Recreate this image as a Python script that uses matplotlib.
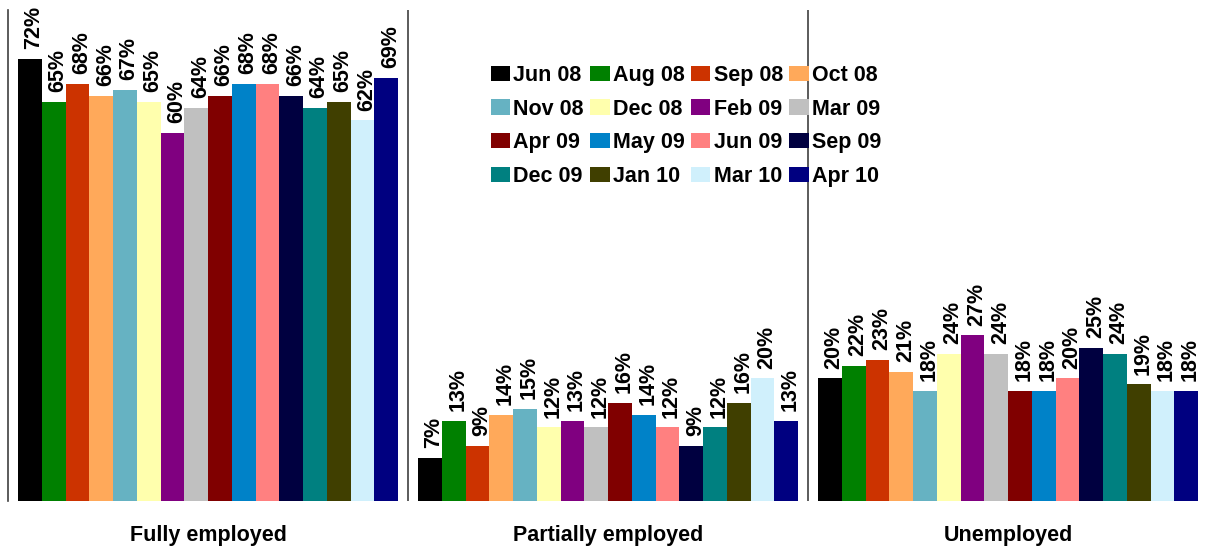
import numpy as np
import matplotlib
matplotlib.use("Agg")
import matplotlib.pyplot as plt
from matplotlib.patches import Patch

plt.rcParams["font.family"] = ["Liberation Sans", "DejaVu Sans"]

# ── Data ──────────────────────────────────────────────────────────────────────
categories = ["Fully employed", "Partially employed", "Unemployed"]
periods = ["Jun 08", "Aug 08", "Sep 08", "Oct 08", "Nov 08", "Dec 08", "Feb 09", "Mar 09",
           "Apr 09", "May 09", "Jun 09", "Sep 09", "Dec 09", "Jan 10", "Mar 10", "Apr 10"]
fully = [72, 65, 68, 66, 67, 65, 60, 64, 66, 68, 68, 66, 64, 65, 62, 69]
partially = [7, 13, 9, 14, 15, 12, 13, 12, 16, 14, 12, 9, 12, 16, 20, 13]
unemployed = [20, 22, 23, 21, 18, 24, 27, 24, 18, 18, 20, 25, 24, 19, 18, 18]
colors = ["#000000", "#008000", "#CC3300", "#FFA95A", "#66B2C2", "#FFFFAD", "#800080", "#C0C0C0",
          "#800000", "#0082C8", "#FF8080", "#000040", "#008080", "#403F00", "#D0F0FC", "#000080"]

values = np.array([fully, partially, unemployed])  # (3 groups, 16 periods)

# ── Plot ──────────────────────────────────────────────────────────────────────
W, H = 1206, 549
fig = plt.figure(figsize=(W / 100, H / 100), dpi=100)
ax = fig.add_axes([8 / W, 1 - 501 / H, 1200 / W, 491 / H])

n = len(periods)
bw = 0.95 / n
x = np.arange(len(categories))

for i, (p, c) in enumerate(zip(periods, colors)):
    xs = x - 0.475 + bw * (i + 0.5)
    vals = values[:, i]
    ax.bar(xs, vals, width=bw, color=c, label=p, linewidth=0)
    for xi, v in zip(xs, vals):
        ax.annotate(f"{v}%", (xi, v), xytext=(3, 7), textcoords="offset points",
                    rotation=90, ha="center", va="bottom", fontsize=15.5, fontweight="bold")

ax.set_xlim(-0.5, 2.5)
ax.set_ylim(0, 80)
ax.set_yticks([])
ax.set_xticks(x)
ax.set_xticklabels(categories, fontsize=15.5, fontweight="bold")
ax.tick_params(axis="x", length=0, pad=17)
for s in ["top", "right", "bottom"]:
    ax.spines[s].set_visible(False)
ax.spines["left"].set_color("#404040")
ax.spines["left"].set_linewidth(1.2)
for sep in [0.5, 1.5]:
    ax.axvline(sep, color="#404040", linewidth=1.2)

# legend filled row by row (4 x 4)
handles = [Patch(facecolor=c, edgecolor="none") for c in colors]
order = [r * 4 + c for c in range(4) for r in range(4)]
fig.legend([handles[k] for k in order], [periods[k] for k in order], ncol=4,
           loc="upper left", bbox_to_anchor=(482 / W, 1 - 56 / H), frameon=False,
           prop={"size": 15.5, "weight": "bold"}, handlelength=0.9, handleheight=0.7,
           handletextpad=0.15, columnspacing=0.3, labelspacing=0.6, borderaxespad=0)

fig.savefig("out.png", dpi=100)
